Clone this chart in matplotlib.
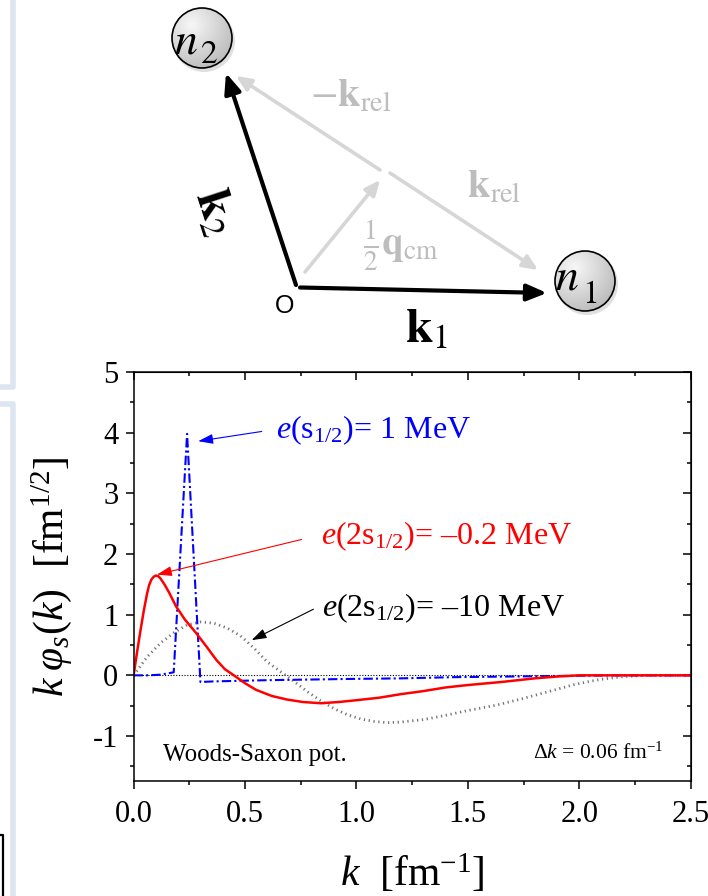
import numpy as np
import matplotlib.pyplot as plt
from matplotlib.patches import Circle
from matplotlib.ticker import MultipleLocator

plt.rcParams['font.family'] = ['Liberation Serif', 'DejaVu Serif']
plt.rcParams['mathtext.fontset'] = 'custom'
plt.rcParams['mathtext.rm'] = 'Liberation Serif'
plt.rcParams['mathtext.it'] = 'Liberation Serif:italic'
plt.rcParams['mathtext.bf'] = 'Liberation Serif:bold'
plt.rcParams['axes.unicode_minus'] = False

# k*phi_s(k) for e(2s1/2) = -0.2 MeV
k_weak = [0, 0.015, 0.03, 0.045, 0.06, 0.07, 0.08, 0.09, 0.10, 0.11, 0.12, 0.14, 0.16,
          0.19, 0.23, 0.28, 0.33, 0.37, 0.41, 0.45, 0.50, 0.55, 0.62, 0.69, 0.76, 0.84,
          0.92, 1.0, 1.1, 1.2, 1.3, 1.4, 1.5, 1.65, 1.8, 1.9, 2.0, 2.5]
phi_weak = [0, 0.37, 0.72, 1.05, 1.34, 1.49, 1.58, 1.625, 1.645, 1.635, 1.60, 1.49, 1.36,
            1.14, 0.92, 0.70, 0.46, 0.26, 0.10, 0, -0.13, -0.24, -0.34, -0.40, -0.44, -0.46,
            -0.44, -0.41, -0.37, -0.31, -0.26, -0.20, -0.16, -0.11, -0.05, -0.02, 0, 0]

# k*phi_s(k) for the s1/2 continuum state at e = 1 MeV (dk = 0.06 fm^-1)
k_cont = [0, 0.06, 0.12, 0.18, 0.24, 0.30, 0.36, 0.48, 0.60, 0.78, 0.96, 1.2, 1.44,
          1.68, 1.92, 2.16, 2.5]
phi_cont = [0, 0, 0.01, 0.05, 3.98, -0.11, -0.10, -0.09, -0.08, -0.07, -0.06, -0.05, -0.03,
            -0.02, -0.01, 0, 0]

# k*phi_s(k) for e(2s1/2) = -10 MeV
k_deep = [0, 0.06, 0.12, 0.18, 0.24, 0.30, 0.36, 0.42, 0.48, 0.54, 0.60, 0.66, 0.72,
          0.78, 0.84, 0.90, 0.96, 1.02, 1.08, 1.14, 1.20, 1.30, 1.40, 1.50, 1.63, 1.75,
          1.87, 1.98, 2.09, 2.20, 2.30, 2.5]
phi_deep = [0, 0.30, 0.53, 0.70, 0.83, 0.88, 0.86, 0.78, 0.65, 0.45, 0.22, 0.06, -0.10,
            -0.27, -0.42, -0.55, -0.65, -0.72, -0.76, -0.78, -0.77, -0.73, -0.66, -0.58, -0.49, -0.38,
            -0.26, -0.15, -0.07, -0.02, 0, 0]

x_ticks = [0.0, 0.5, 1.0, 1.5, 2.0, 2.5]
y_ticks = [-1, 0, 1, 2, 3, 4, 5]

# momentum sketch, figure pixels with y pointing down
n2_pos = (202, 38)
n1_pos = (585, 281)
node_r = 30
k1_vec = [(300, 287.5), (547, 293)]
k2_vec = [(296, 285), (226, 73)]
minus_krel_vec = [(380, 170), (236, 76)]
krel_vec = [(390, 173), (538, 270)]
qcm_vec = [(305, 272), (380, 180)]

fig = plt.figure(figsize=(7.08, 8.96), dpi=100)

# ---- background sketch ----
bg = fig.add_axes([0, 0, 1, 1])
bg.set_xlim(0, 708)
bg.set_ylim(896, 0)
bg.axis('off')

# slide frame pieces on the left edge
frame_col = '#dce6f2'
bg.plot([12.5, 12.5, 0], [0, 387, 387], color=frame_col, lw=4, solid_joinstyle='round')
bg.plot([0, 12.5, 12.5], [404, 404, 896], color=frame_col, lw=4, solid_joinstyle='round')
bg.plot([0, 3, 3], [835, 835, 896], color='black', lw=1.6)


def draw_node(ax, pos, idx, n_x, n_y, sub_x, sub_y):
    cx, cy = pos
    ax.add_patch(Circle((cx + 2, cy + 3), node_r + 1, fc='0.6', ec='none', alpha=0.3))
    yy, xx = np.mgrid[-1:1:120j, -1:1:120j]
    shade = np.hypot(xx + 0.35, yy + 0.45)
    v = np.clip(0.97 - 0.15 * shade, 0, 1)
    img = ax.imshow(np.dstack([v, v, v]),
                    extent=(cx - node_r, cx + node_r, cy + node_r, cy - node_r),
                    interpolation='bilinear', zorder=2)
    clip = Circle((cx, cy), node_r, transform=ax.transData)
    img.set_clip_path(clip)
    ax.add_patch(Circle((cx, cy), node_r, fill=False, ec='black', lw=1.2, zorder=3))
    ax.text(n_x, n_y, r'$n$', fontsize=33, ha='left', va='baseline',
            math_fontfamily='stix', zorder=4)
    ax.text(sub_x, sub_y, idx, fontsize=24, ha='left', va='baseline',
            math_fontfamily='stix', zorder=4)


draw_node(bg, n2_pos, r'$2$', 174, 53, 200, 63)
draw_node(bg, n1_pos, r'$1$', 555, 290, 582, 303)
bg.set_aspect('auto')
bg.set_xlim(0, 708)
bg.set_ylim(896, 0)


def sketch_arrow(ax, vec, color, lw, hl, hw):
    ax.annotate('', xy=vec[1], xytext=vec[0],
                arrowprops=dict(arrowstyle=f'-|>,head_length={hl},head_width={hw}',
                                color=color, lw=lw, shrinkA=0, shrinkB=0,
                                mutation_scale=10))


grey_arrow = '#d6d6d6'
grey_text = '#bdbdbd'
sketch_arrow(bg, minus_krel_vec, grey_arrow, 2.6, 0.9, 0.4)
sketch_arrow(bg, krel_vec, grey_arrow, 2.6, 0.9, 0.4)
sketch_arrow(bg, qcm_vec, grey_arrow, 2.6, 0.9, 0.4)
sketch_arrow(bg, k1_vec, 'black', 3.0, 1.2, 0.5)
sketch_arrow(bg, k2_vec, 'black', 3.0, 1.2, 0.5)

bg.text(310, 107, r'$-\mathbf{k}_{\rm rel}$', fontsize=29, color=grey_text,
        math_fontfamily='stix', va='baseline')
bg.text(467, 198, r'$\mathbf{k}_{\rm rel}$', fontsize=29, color=grey_text,
        math_fontfamily='stix', va='baseline')
bg.text(363, 255, r'$\frac{1}{2}\mathbf{q}_{\rm cm}$', fontsize=28, color=grey_text,
        math_fontfamily='stix', va='baseline')
bg.text(405, 342, r'$\mathbf{k}_1$', fontsize=35, math_fontfamily='stix', va='baseline')
bg.text(214, 212, r'$\mathbf{k}_2$', fontsize=35, math_fontfamily='stix',
        ha='center', va='center', rotation=-72)
bg.text(285, 306, 'O', fontsize=18, family='Liberation Sans', ha='center', va='center')

# ---- momentum distribution plot ----
ax = fig.add_axes([0.1887, 0.1278, 0.7868, 0.4570])
ax.set_facecolor('none')

ax.plot([0, 2.5], [0, 0], color='black', lw=0.8, linestyle=(0, (1, 1.5)))
ax.plot(k_deep, phi_deep, color='0.45', lw=2.0, linestyle=(0, (0.45, 1.3)))
ax.plot(k_cont, phi_cont, color='blue', lw=1.5, linestyle=(0, (4.5, 1.5, 1, 1.5)))
ax.plot(k_weak, phi_weak, color='red', lw=1.8)

ax.set_xlim(0, 2.5)
ax.set_ylim(-1.75, 5)
ax.set_xticks(x_ticks)
ax.set_xticklabels([f'{v:.1f}' for v in x_ticks])
ax.set_yticks(y_ticks)
ax.set_yticklabels([str(v) for v in y_ticks])
ax.xaxis.set_minor_locator(MultipleLocator(0.25))
ax.yaxis.set_minor_locator(MultipleLocator(0.5))
ax.tick_params(which='major', direction='out', length=6, width=1.1, labelsize=22, pad=5)
ax.tick_params(which='minor', direction='out', length=3, width=1.1)
ax.tick_params(axis='x', which='major', pad=7)
for sp in ax.spines.values():
    sp.set_linewidth(1.1)

top = ax.secondary_xaxis('top')
top.set_xticks(x_ticks)
top.xaxis.set_minor_locator(MultipleLocator(0.25))
top.tick_params(which='major', direction='in', length=6, width=1.1, labeltop=False)
top.tick_params(which='minor', direction='in', length=3, width=1.1)
right = ax.secondary_yaxis('right')
right.set_yticks(y_ticks)
right.yaxis.set_minor_locator(MultipleLocator(0.5))
right.tick_params(which='major', direction='in', length=6, width=1.1, labelright=False)
right.tick_params(which='minor', direction='in', length=3, width=1.1)

ax.set_xlabel(r'$k$  [fm$^{-1}$]', fontsize=30)
ax.set_ylabel(r'$k\;\varphi_s(k)$  [fm$^{1/2}$]', fontsize=30)
ax.xaxis.set_label_coords(0.5, -0.276)
ax.yaxis.set_label_coords(-0.148, 0.5)
ax.xaxis.label.set_va('bottom')
ax.yaxis.label.set_va('center')


def label_arrow(tail, tip, color):
    ax.annotate('', xy=tip, xytext=tail,
                arrowprops=dict(arrowstyle='-|>,head_length=0.9,head_width=0.3',
                                color=color, lw=0.8, shrinkA=0, shrinkB=0,
                                mutation_scale=10))


ax.text(0.64, 3.91, r'$e$(s$_{1/2}$)= 1 MeV', color='blue', fontsize=23, va='baseline')
label_arrow((0.575, 4.02), (0.29, 3.86), 'blue')
ax.text(0.84, 2.16, r'$e$(2s$_{1/2}$)= –0.2 MeV', color='red', fontsize=23, va='baseline')
label_arrow((0.754, 2.24), (0.105, 1.66), 'red')
ax.text(0.845, 0.97, r'$e$(2s$_{1/2}$)= –10 MeV', color='black', fontsize=23, va='baseline')
label_arrow((0.807, 1.09), (0.53, 0.58), 'black')

ax.text(0.13, -1.41, 'Woods-Saxon pot.', fontsize=18, va='baseline')
ax.text(2.376, -1.38, r'$\mathit{\Delta} k$ = 0.06 fm$^{-1}$', fontsize=15.5,
        ha='right', va='baseline')

fig.savefig('out.png', dpi=100)
